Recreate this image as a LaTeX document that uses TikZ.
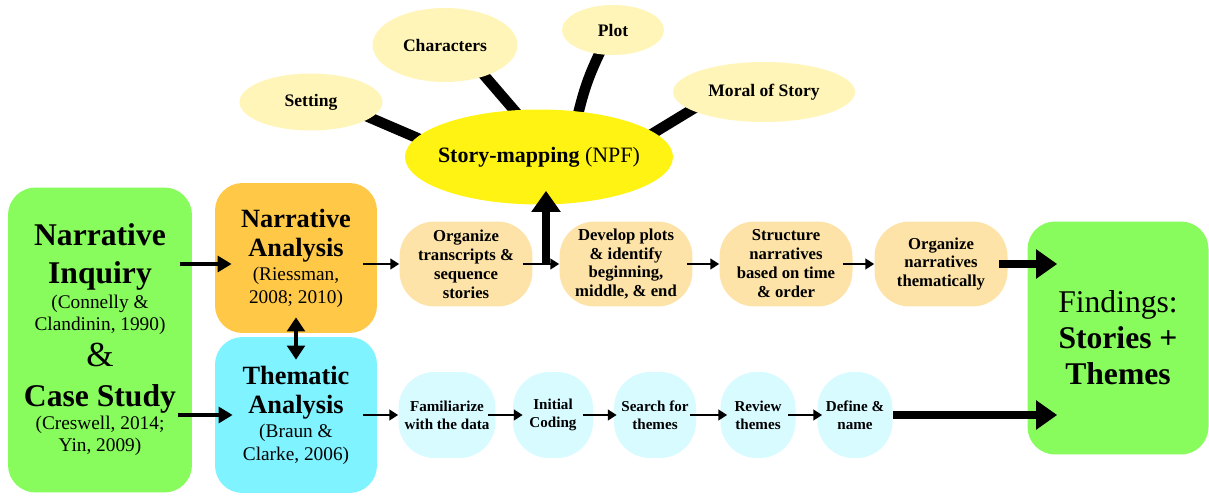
\documentclass[tikz,border=0pt]{standalone}
\usepackage{fontspec}
\setmainfont{Liberation Serif}
\usetikzlibrary{arrows.meta, shapes.geometric, positioning, calc, backgrounds}

\definecolor{limefill}{HTML}{88FC5C}
\definecolor{orangefill}{HTML}{FFC947}
\definecolor{cyanfill}{HTML}{7FF3FF}
\definecolor{sandfill}{HTML}{FDE3A8}
\definecolor{icefill}{HTML}{D7FBFF}
\definecolor{mapfill}{HTML}{FFF314}
\definecolor{leaffill}{HTML}{FFF5B8}

% fonts for the big boxes
\newcommand\methodfont{\fontsize{18}{21.6}\selectfont\bfseries}
\newcommand\reffont{\fontsize{11}{12.8}\selectfont}
\newcommand\ampfont{\fontsize{20}{21}\selectfont}
\newcommand\analysisfont{\fontsize{15}{16.5}\selectfont\bfseries}
\newcommand\findfont{\fontsize{18}{20.5}\selectfont}

\tikzset{
  bigbox/.style={rectangle, rounded corners=0.55cm, align=center, inner sep=0pt, font=\reffont},
  sandstep/.style={rectangle, rounded corners=0.7cm, fill=sandfill, minimum width=2.66cm,
    minimum height=1.7cm, align=center, inner sep=0pt, font=\fontsize{9.5}{10.8}\selectfont\bfseries},
  icestep/.style={rectangle, rounded corners=0.72cm, fill=icefill, minimum height=1.72cm,
    align=center, inner sep=0pt, font=\fontsize{8.6}{10.2}\selectfont\bfseries},
  leaf/.style={ellipse, fill=leaffill, inner sep=0pt, font=\fontsize{10}{12}\selectfont\bfseries},
  thinflow/.style={-{Triangle[length=5pt,width=6pt]}, line width=1.3pt},
  medflow/.style={-{Triangle[length=8pt,width=9pt]}, line width=2.4pt},
  boldflow/.style={-{Triangle[length=12pt,width=16pt]}, line width=4.5pt},
  spoke/.style={line width=6pt, shorten <=-4pt, shorten >=-4pt}
}

\begin{document}
\begin{tikzpicture}[x=0.02cm, y=-0.02cm]
\useasboundingbox (0,0) rectangle (1209,497);

% the two methods and the two analyses
\node[bigbox, fill=limefill, minimum width=3.68cm, minimum height=6.1cm] (inquiry) at (100,340)
  {\methodfont Narrative\\[8.8pt] \methodfont Inquiry\\[1pt]
   (Connelly \&\\ Clandinin, 1990)\\[4pt]
   \ampfont \&\\[10pt]
   \methodfont Case Study\\
   (Creswell, 2014;\\ Yin, 2009)};
\node[bigbox, fill=orangefill, minimum width=3.24cm, minimum height=3.0cm] (narrative) at (296,258)
  {\analysisfont Narrative\\[3.7pt] \analysisfont Analysis\\[1.2pt]
   (Riessman,\\ 2008; 2010)};
\node[bigbox, fill=cyanfill, minimum width=3.24cm, minimum height=3.12cm] (thematic) at (296,415)
  {\analysisfont Thematic\\[3.7pt] \analysisfont Analysis\\[1.2pt]
   (Braun \&\\ Clarke, 2006)};
\node[bigbox, fill=limefill, minimum width=3.62cm, minimum height=4.66cm, font=\findfont] (findings)
  at (1118,338) {Findings:\\ \bfseries Stories +\\ \bfseries Themes};

% narrative steps
\node[sandstep] (s1) at (466,264) {Organize\\ transcripts \&\\ sequence\\ stories};
\node[sandstep] (s2) at (626,264) {Develop plots\\ \& identify\\ beginning,\\ middle, \& end};
\node[sandstep] (s3) at (786,264) {Structure\\ narratives\\ based on time\\ \& order};
\node[sandstep] (s4) at (941,264) {Organize\\ narratives\\ thematically};

% thematic steps
\node[icestep, minimum width=1.94cm] (t1) at (447,415) {Familiarize\\ with the data};
\node[icestep, minimum width=1.6cm] (t2) at (553,415) {Initial\\ Coding};
\node[icestep, minimum width=1.64cm] (t3) at (655,415) {Search for\\ themes};
\node[icestep, minimum width=1.5cm] (t4) at (758,415) {Review\\ themes};
\node[icestep, minimum width=1.5cm] (t5) at (855,415) {Define \&\\ name};

% story map
\node[ellipse, fill=mapfill, minimum width=5.36cm, minimum height=1.9cm, inner sep=0pt,
  inner xsep=-4pt, font=\fontsize{12.5}{15}\selectfont] (story) at (539,157)
  {\bfseries Story-mapping \mdseries(NPF)};
\node[leaf, minimum width=2.86cm, minimum height=1.14cm] (setting) at (311,102) {Setting};
\node[leaf, minimum width=2.9cm, minimum height=1.48cm] (characters) at (445,45) {Characters};
\node[leaf, minimum width=2.04cm, minimum height=1.0cm] (plot) at (613,30) {Plot};
\node[leaf, minimum width=3.64cm, minimum height=1.2cm] (moral) at (764,92) {Moral of Story};

\begin{scope}[on background layer]
  \draw[spoke] (setting.-15) -- (story.171);
  \draw[spoke] (characters.-38) -- (story.118);
  \draw[spoke] (plot.-120) to[bend right=6] (story.49);
  \draw[spoke] (moral.-166) -- (story.12);
\end{scope}

% connectors
\draw[medflow] ([xshift=-0.24cm]inquiry.east |- s1) -- ([xshift=0.34cm]narrative.west |- s1);
\draw[medflow] ([xshift=-0.28cm]inquiry.east |- t1) -- ([xshift=0.36cm]thematic.west |- t1);
\draw[{Triangle[length=8pt,width=10pt]}-{Triangle[length=8pt,width=10pt]}, line width=2.4pt]
  ([yshift=0.32cm]narrative.south) -- ([yshift=-0.46cm]thematic.north);

\draw[thinflow] ([xshift=-0.28cm]narrative.east |- s1) -- (s1);
\draw[thinflow, shorten <=-0.2cm] (s1) -- (s2);
\draw[thinflow, shorten <=-0.12cm] (s2) -- (s3);
\draw[thinflow, shorten <=-0.2cm] (s3) -- (s4);
\coordinate (fork) at ($(s1.east)!0.5!(s2.west)$);
\draw[boldflow, shorten >=-0.28cm] (fork) -- (fork |- story.south);
\draw[boldflow, shorten <=-0.18cm] (s4) -- ([xshift=0.6cm]s4 -| findings.west);

\draw[thinflow] ([xshift=-0.28cm]thematic.east |- t1) -- (t1);
\draw[thinflow, shorten <=-0.16cm, shorten >=-0.2cm] (t1) -- (t2);
\draw[thinflow, shorten <=-0.2cm, shorten >=-0.06cm] (t2) -- (t3);
\draw[thinflow, shorten <=-0.12cm, shorten >=-0.14cm] (t3) -- (t4);
\draw[thinflow, shorten <=-0.16cm, shorten >=-0.1cm] (t4) -- (t5);
\draw[boldflow] (t5) -- ([xshift=0.6cm]t5 -| findings.west);
\end{tikzpicture}
\end{document}
